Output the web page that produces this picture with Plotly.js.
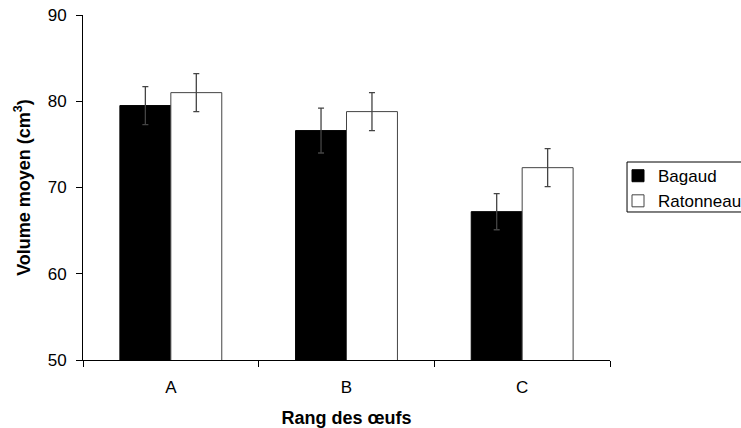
<!DOCTYPE html>
<html>
<head>
<meta charset="utf-8">
<script src="https://cdn.plot.ly/plotly-3.0.1.min.js"></script>
<style>html,body{margin:0;padding:0;background:#fff;}#chart{width:741px;height:428px;}</style>
</head>
<body>
<div id="chart"></div>
<script>
const categories = ['A', 'B', 'C'];
const bagaudValues = [79.5, 76.6, 67.2];
const bagaudErrors = [2.2, 2.6, 2.1];
const ratonneauValues = [81.0, 78.8, 72.3];
const ratonneauErrors = [2.2, 2.2, 2.2];
const seriesNames = ['Bagaud', 'Ratonneau'];

const font = 'Arial, "Liberation Sans", sans-serif';

const traces = [
  {
    type: 'bar', name: seriesNames[0], x: categories, y: bagaudValues,
    marker: {color: '#000000', line: {color: '#000000', width: 1}},
    error_y: {type: 'data', array: bagaudErrors, visible: true, color: '#444', thickness: 1.3, width: 3}
  },
  {
    type: 'bar', name: seriesNames[1], x: categories, y: ratonneauValues,
    marker: {color: '#ffffff', line: {color: '#444', width: 1}},
    error_y: {type: 'data', array: ratonneauErrors, visible: true, color: '#444', thickness: 1.3, width: 3}
  }
];

const layout = {
  width: 741, height: 428,
  margin: {l: 83, r: 131, t: 15, b: 68, autoexpand: false},
  paper_bgcolor: '#fff', plot_bgcolor: '#fff',
  font: {family: font, size: 17, color: '#000'},
  barmode: 'group', bargap: 0.42, bargroupgap: 0,
  showlegend: true,
  legend: {
    x: 1.0152, y: 0.585, xanchor: 'left', yanchor: 'top',
    borderwidth: 0, bgcolor: 'rgba(0,0,0,0)',
    font: {family: font, size: 17, color: '#000'},
    tracegroupgap: 0, itemwidth: 30
  },
  shapes: [{
    type: 'rect', xref: 'paper', yref: 'paper',
    x0: 1.0323, x1: 1.4, y0: 0.429, y1: 0.5739,
    line: {color: '#000', width: 1}, fillcolor: 'rgba(0,0,0,0)', layer: 'below'
  }],
  xaxis: {
    type: 'category', showline: true, linecolor: '#000', linewidth: 1,
    ticks: 'outside', tickson: 'boundaries', ticklen: 6, tickcolor: '#000',
    showgrid: false, zeroline: false, ticklabelstandoff: 12,
    tickfont: {family: font, size: 17, color: '#000'},
    title: {text: '<b>Rang des œufs</b>', font: {family: font, size: 18, color: '#000'}, standoff: 16}
  },
  yaxis: {
    range: [50, 90], dtick: 10, showline: true, linecolor: '#000', linewidth: 1,
    ticks: 'outside', ticklen: 6, tickcolor: '#000',
    showgrid: false, zeroline: false, ticklabelstandoff: 6,
    tickfont: {family: font, size: 17, color: '#000'},
    title: {text: '<b>Volume moyen (cm<sup>3</sup>)</b>', font: {family: font, size: 18, color: '#000'}, standoff: 12}
  }
};

Plotly.newPlot('chart', traces, layout, {staticPlot: true, displayModeBar: false});
</script>
</body>
</html>
